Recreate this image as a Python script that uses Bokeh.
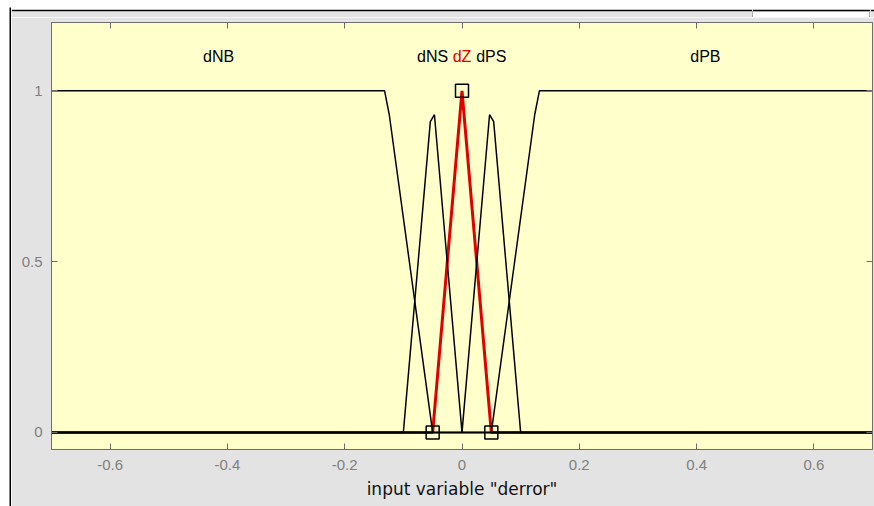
from bokeh.plotting import figure
from bokeh.models import FixedTicker, LinearAxis, Range1d, Spacer
from bokeh.layouts import column, row
from bokeh.core.properties import value
from bokeh.embed import file_html
from bokeh.resources import INLINE

# ---- data ----
x_ticks = [-0.6, -0.4, -0.2, 0, 0.2, 0.4, 0.6]
x_tick_labels = ["-0.6", "-0.4", "-0.2", "0", "0.2", "0.4", "0.6"]
y_ticks = [0, 0.5, 1]
y_tick_labels = ["0", "0.5", "1"]

mf_names = ["dNB", "dNS", "dZ", "dPS", "dPB"]
mf_label_x = [-0.415, -0.05, 0.0, 0.05, 0.415]
mf_label_y = [1.1, 1.1, 1.1, 1.1, 1.1]

dNB_x = [-0.7, -0.132, -0.124, -0.05, 0.7]
dNB_y = [1.0, 1.0, 0.93, 0.0, 0.0]
dNS_x = [-0.7, -0.1, -0.054, -0.047, 0.0, 0.7]
dNS_y = [0.0, 0.0, 0.91, 0.93, 0.0, 0.0]
dZ_x = [-0.7, -0.05, 0.0, 0.05, 0.7]
dZ_y = [0.0, 0.0, 1.0, 0.0, 0.0]
dPS_x = [-0.7, 0.0, 0.047, 0.054, 0.1, 0.7]
dPS_y = [0.0, 0.0, 0.93, 0.91, 0.0, 0.0]
dPB_x = [-0.7, 0.05, 0.124, 0.132, 0.7]
dPB_y = [0.0, 0.0, 0.93, 1.0, 1.0]

sel_x = [-0.05, 0.0, 0.05]
sel_y = [0.0, 1.0, 0.0]

x_label = 'input variable "derror"'

FONT = "Liberation Sans"
GRAY = "#e3e3e3"
YELLOW = "#ffffcc"
AXCOL = "#6e6e6e"


def block(w, h, color, top_black=0, outline=None):
    f = figure(width=w, height=h, toolbar_location=None, output_backend="svg",
               x_axis_location=None, y_axis_location=None,
               min_border_left=0, min_border_right=0, min_border_bottom=0,
               min_border_top=top_black)
    f.border_fill_color = "black" if top_black else color
    f.background_fill_color = color
    f.outline_line_color = outline
    f.grid.visible = False
    return f


p = figure(width=863, height=489, output_backend="svg", toolbar_location=None,
           x_range=Range1d(-0.7, 0.7), y_range=Range1d(-0.05, 1.2),
           min_border_left=40, min_border_top=5, min_border_right=2,
           min_border_bottom=57)
p.background_fill_color = YELLOW
p.border_fill_color = GRAY
p.outline_line_color = AXCOL
p.xgrid.visible = False
p.ygrid.visible = False

for ax in p.xaxis:
    ax.ticker = FixedTicker(ticks=x_ticks)
    ax.major_label_overrides = {t: l for t, l in zip(x_ticks, x_tick_labels)}
    ax.major_tick_in = 6
    ax.major_tick_out = 0
    ax.minor_tick_line_color = None
    ax.major_label_standoff = 10
    ax.axis_line_color = AXCOL
    ax.major_tick_line_color = AXCOL
    ax.major_label_text_color = "#808080"
    ax.major_label_text_font = FONT
    ax.major_label_text_font_size = "15px"
    ax.axis_label = x_label
    ax.axis_label_text_font = "DejaVu Sans"
    ax.axis_label_text_font_style = "normal"
    ax.axis_label_text_font_size = "17px"
    ax.axis_label_text_color = "#111111"
    ax.axis_label_standoff = 6

for ax in p.yaxis:
    ax.ticker = FixedTicker(ticks=y_ticks)
    ax.major_label_overrides = {t: l for t, l in zip(y_ticks, y_tick_labels)}
    ax.major_tick_in = 6
    ax.major_tick_out = 0
    ax.minor_tick_line_color = None
    ax.major_label_standoff = 9
    ax.axis_line_color = AXCOL
    ax.major_tick_line_color = AXCOL
    ax.major_label_text_color = "#808080"
    ax.major_label_text_font = FONT
    ax.major_label_text_font_size = "15px"

top_ax = LinearAxis(ticker=FixedTicker(ticks=x_ticks), major_tick_in=6, major_tick_out=0,
                    minor_tick_line_color=None,
                    major_label_overrides={t: "" for t in x_ticks},
                    major_label_standoff=0, axis_line_color=AXCOL,
                    major_tick_line_color=AXCOL)
right_ax = LinearAxis(ticker=FixedTicker(ticks=y_ticks), major_tick_in=6, major_tick_out=0,
                      minor_tick_line_color=None,
                      major_label_overrides={t: "" for t in y_ticks},
                      major_label_standoff=0, axis_line_color=AXCOL,
                      major_tick_line_color=AXCOL)
p.add_layout(top_ax, "above")
p.add_layout(right_ax, "right")

# selected MF (red) first, others in black
p.line(dZ_x, dZ_y, line_color="#e00000", line_width=3)
for xs, ys in [(dNB_x, dNB_y), (dNS_x, dNS_y), (dPS_x, dPS_y), (dPB_x, dPB_y)]:
    p.line(xs, ys, line_color="black", line_width=1.5)

p.scatter(sel_x, sel_y, marker="square", size=13, fill_color=None,
          line_color="black", line_width=1.5)

label_colors = ["black", "black", "#e00000", "black", "black"]
p.text(x=mf_label_x, y=mf_label_y, text=mf_names, text_color=label_colors,
       text_align="center", text_baseline="middle",
       text_font=value(FONT), text_font_size="16px")

# window chrome: white margin, black top/left edge, white box at top right
top_strip = row(block(741, 10, GRAY, top_black=2),
                block(118, 10, "white", top_black=2, outline="#a8a8a8"),
                block(6, 10, GRAY, top_black=2))
inner = row(block(2, 499, "black"), column(top_strip, p))
layout = column(Spacer(width=874, height=7), row(Spacer(width=9, height=499), inner))

open("out.html", "w").write(file_html(layout, INLINE))
